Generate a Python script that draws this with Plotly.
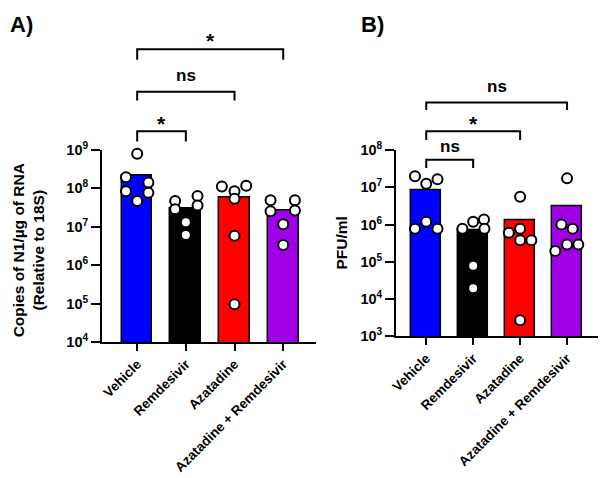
import math
import plotly.graph_objects as go

W, H = 600, 478

categories = ["Vehicle", "Remdesivir", "Azatadine", "Azatadine + Remdesivir"]
bar_colors = ["#0000FF", "#000000", "#FF0000", "#A000E6"]

# ---- Panel A: copies of N1 / ug RNA ----
a_bar_means = [2.1e8, 3.0e7, 5.6e7, 2.6e7]
a_vehicle = [7.8e8, 1.9e8, 1.4e8, 8.3e7, 7.5e7, 4.6e7]
a_remdesivir = [4.6e7, 6.2e7, 2.8e7, 3.5e7, 1.3e7, 6.0e6]
a_azatadine = [1.1e8, 1.15e8, 8.3e7, 5.3e7, 5.8e6, 9.5e4]
a_combo = [4.8e7, 4.8e7, 2.5e7, 2.6e7, 1.15e7, 3.3e6]
a_comparisons = [(0, 3, "*"), (0, 2, "ns"), (0, 1, "*")]

# ---- Panel B: PFU/ml ----
b_bar_means = [8.4e6, 7.0e5, 1.3e6, 3.2e6]
b_vehicle = [2.0e7, 1.25e7, 1.67e7, 1.2e6, 7.8e5, 7.8e5]
b_remdesivir = [7.8e5, 1.2e6, 1.38e6, 7.8e5, 7.8e4, 1.95e4]
b_azatadine = [5.6e6, 6.0e5, 7.8e5, 3.8e5, 3.8e5, 2.7e3]
b_combo = [1.75e7, 1.0e6, 7.8e5, 1.95e5, 2.9e5, 2.9e5]
b_comparisons = [(0, 3, "ns"), (0, 2, "*"), (0, 1, "ns")]

a_ticks = [1e4, 1e5, 1e6, 1e7, 1e8, 1e9]
b_ticks = [1e3, 1e4, 1e5, 1e6, 1e7, 1e8]

# horizontal jitter (layout only, in category units)
a_jitter = [
    [0, -0.23, 0.23, -0.23, 0.23, 0],
    [-0.22, 0.24, -0.22, 0.24, 0, 0],
    [-0.26, 0.24, 0, 0, 0, 0],
    [-0.26, 0.24, -0.26, 0.24, 0, 0],
]
b_jitter = [
    [-0.24, 0, 0.24, 0, -0.24, 0.24],
    [-0.23, 0, 0.23, 0.24, 0, 0],
    [0, -0.24, 0, 0, 0.24, 0],
    [0, -0.12, 0.12, -0.25, 0, 0.24],
]

FONT = "Liberation Sans"


def px_x(p):
    return p / W


def px_y(p):
    return 1 - p / H


fig = go.Figure()


def add_panel(means, groups, jitter, xa, ya):
    fig.add_trace(go.Bar(
        x=list(range(len(categories))), y=means,
        marker=dict(color=bar_colors, line=dict(color="black", width=1.5)),
        width=0.63, xaxis=xa, yaxis=ya, showlegend=False, hoverinfo="skip"))
    for i, (vals, jit) in enumerate(zip(groups, jitter)):
        fig.add_trace(go.Scatter(
            x=[i + j for j in jit], y=vals, mode="markers",
            marker=dict(size=10, color="white", line=dict(color="black", width=2)),
            xaxis=xa, yaxis=ya, showlegend=False, cliponaxis=False))


add_panel(a_bar_means, [a_vehicle, a_remdesivir, a_azatadine, a_combo], a_jitter, "x", "y")
add_panel(b_bar_means, [b_vehicle, b_remdesivir, b_azatadine, b_combo], b_jitter, "x2", "y2")

xcommon = dict(
    tickvals=list(range(len(categories))), ticktext=categories, tickangle=-45,
    ticks="outside", ticklen=7, tickwidth=2, tickcolor="black",
    showline=True, linewidth=2, linecolor="black", showgrid=False, zeroline=False,
    tickfont=dict(family=FONT, size=13.5, color="black", weight="bold"))
ycommon = dict(
    type="log", ticks="outside", ticklen=9, tickwidth=2, tickcolor="black",
    showline=True, linewidth=2, linecolor="black", showgrid=False, zeroline=False,
    tickfont=dict(family=FONT, size=14.5, color="black", weight="bold"))


def sup_labels(ticks):
    return ["10<sup>%d</sup>" % round(math.log10(t)) for t in ticks]


fig.update_layout(
    width=W, height=H, margin=dict(l=0, r=0, t=0, b=0),
    paper_bgcolor="white", plot_bgcolor="white", bargap=0,
    xaxis=dict(domain=[px_x(97), px_x(313)], range=[-0.722, 3.671], anchor="y", **xcommon),
    yaxis=dict(domain=[px_y(345), px_y(145)], range=[4, 9], anchor="x",
               tickvals=a_ticks, ticktext=sup_labels(a_ticks), **ycommon),
    xaxis2=dict(domain=[px_x(394), px_x(598)], range=[-0.643, 3.660], anchor="y2", **xcommon),
    yaxis2=dict(domain=[px_y(339), px_y(145.7)], range=[3, 8], anchor="x2",
                tickvals=b_ticks, ticktext=sup_labels(b_ticks), **ycommon),
)

shapes = []
annotations = []


def add_brackets(comps, xref, levels):
    for (g0, g1, label), (ybar, ytick, ytext) in zip(comps, levels):
        shapes.append(dict(
            type="path", xref=xref, yref="paper",
            path="M %f,%f L %f,%f L %f,%f L %f,%f" % (
                g0, px_y(ytick), g0, px_y(ybar), g1, px_y(ybar), g1, px_y(ytick)),
            line=dict(color="black", width=2)))
        annotations.append(dict(
            x=(g0 + g1) / 2, y=px_y(ytext), xref=xref, yref="paper",
            text=label, showarrow=False, xanchor="center", yanchor="middle",
            font=dict(family=FONT, size=21 if label == "*" else 17, color="black", weight="bold")))


add_brackets(a_comparisons, "x", [(40.7, 51.7, 32), (85, 94, 68), (126, 136.7, 118)])
add_brackets(b_comparisons, "x2", [(96, 104, 80), (126, 135, 118), (155.7, 164.3, 141.7)])

# panel letters
annotations.append(dict(x=px_x(2), y=px_y(15), xref="paper", yref="paper", text="A)",
                        showarrow=False, xanchor="left", yanchor="middle",
                        font=dict(family=FONT, size=22, color="black", weight="bold")))
annotations.append(dict(x=px_x(357), y=px_y(15), xref="paper", yref="paper", text="B)",
                        showarrow=False, xanchor="left", yanchor="middle",
                        font=dict(family=FONT, size=22, color="black", weight="bold")))

# y-axis titles
annotations.append(dict(x=px_x(23), y=px_y(250), xref="paper", yref="paper",
                        text="Copies of N1/µg of RNA<br>(Relative to 18S)", textangle=-90,
                        showarrow=False, xanchor="center", yanchor="middle",
                        font=dict(family=FONT, size=15.5, color="black", weight="bold")))
annotations.append(dict(x=px_x(339), y=px_y(242), xref="paper", yref="paper",
                        text="PFU/ml", textangle=-90,
                        showarrow=False, xanchor="center", yanchor="middle",
                        font=dict(family=FONT, size=15.5, color="black", weight="bold")))

fig.update_layout(shapes=shapes, annotations=annotations)
fig.write_html("out.html")
